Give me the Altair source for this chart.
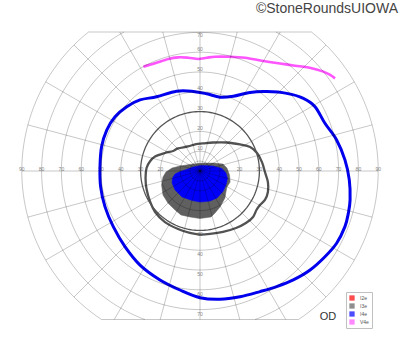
import math
import altair as alt
import pandas as pd

# ---------------- chart geometry (degrees of visual field) ----------------
W, H = 400, 352
CX_PX, CY_PX = 200, 171          # where fixation sits on the canvas
PX_PER_DEG = 1.98
TOP_LIMIT = 70.2                 # chart is cut flat at the top ...
BOTTOM_LIMIT = 75.0              # ... and at the bottom
OUTER = 90

light_rings = [5, 10, 20, 40, 50, 60, 70, 80, 90]
dark_ring = 30
meridians = list(range(0, 360, 15))
h_labels = [10, 20, 30, 40, 50, 60, 70, 80, 90]
v_labels = [10, 20, 30, 40, 50, 60, 70]

# ---------------- isopters (x, y in degrees) ----------------
# V4e (pink, open line across the top)
v4e_x = [-28.6, -22.7, -16.0, -11.0, -5.9, -0.9, 3.4, 7.6, 14.3, 22.7, 31.2, 39.5, 48.0, 56.4, 62.3, 65.7, 68.2]
v4e_y = [52.7, 54.4, 56.6, 57.4, 57.2, 56.6, 57.2, 57.7, 57.7, 57.2, 55.7, 54.4, 53.2, 51.9, 50.2, 48.5, 46.8]

# I4e (blue) outer isopter
i4e_x = [-21.9, -11.8, -3.4, 3.4, 10.1, 16.8, 25.3, 33.7, 43.8, 52.2, 58.1, 63.1, 69.0, 73.2, 75.4, 75.8,
         74.9, 73.2, 69.0, 63.1, 55.6, 47.1, 38.7, 30.3, 20.2, 10.1, 0.0, -10.1, -20.2, -30.3, -37.9,
         -43.8, -48.0, -50.2, -50.5, -49.7, -47.1, -42.9, -37.0, -30.3]
i4e_y = [37.5, 40.3, 40.2, 39.0, 37.3, 37.8, 39.7, 40.1, 39.2, 36.7, 32.5, 24.1, 15.7, 5.6, -4.5, -14.6,
         -21.4, -28.1, -36.5, -43.3, -50.0, -55.0, -58.4, -60.9, -63.5, -64.8, -64.0, -60.1, -55.0, -47.5, -38.2,
         -28.1, -18.0, -7.9, 2.2, 12.3, 20.7, 27.4, 32.5, 35.9]

# I3e (dark gray) isopter line
i3e_x = [1.5, 6.6, 13.6, 20.2, 25.3, 28.8, 31.3, 32.8, 34.3, 34.3, 32.8, 30.3, 28.5, 26.8, 23.2, 18.2,
         11.6, 5.1, 0.0, -5.1, -11.1, -17.7, -22.7, -25.3, -27.0, -27.5, -27.0, -25.3, -22.7, -17.7,
         -13.6, -11.1, -6.1, -2.0]
i3e_y = [13.9, 14.4, 14.4, 13.4, 12.1, 9.1, 4.5, -0.5, -5.6, -10.6, -14.6, -17.2, -19.7, -23.2, -26.3, -28.8,
         -30.8, -31.8, -32.1, -31.3, -29.3, -25.8, -20.7, -15.2, -9.1, -3.5, 1.5, 4.8, 7.3, 9.1,
         10.1, 11.4, 12.4, 13.6]

# central filled areas
i3e_fill_x = [-17.2, -14.1, -10.1, -5.1, 0.0, 6.6, 11.6, 13.6, 14.9, 15.2, 13.6, 13.1, 12.6, 10.1, 7.6, 5.6,
              0.0, -5.1, -9.6, -12.6, -16.2, -18.7, -19.4, -18.7]
i3e_fill_y = [-0.5, 1.5, 2.5, 3.3, 3.9, 4.0, 3.5, 1.5, -2.0, -5.6, -8.1, -10.6, -13.6, -18.2, -21.2, -23.2,
              -24.0, -23.2, -22.2, -19.7, -16.2, -12.1, -7.1, -3.0]
i4e_fill_x = [-13.9, -12.6, -10.1, -7.6, -3.5, 0.5, 6.6, 11.1, 13.1, 13.9, 13.1, 11.6, 8.6, 5.1, 0.0,
              -4.0, -9.1, -12.6, -14.1]
i4e_fill_y = [-3.5, -1.5, -0.3, 0.5, 2.0, 2.8, 2.5, 1.3, -1.0, -3.8, -7.1, -10.4, -13.6, -15.2, -15.7,
              -14.9, -13.1, -9.6, -6.1]

tests = ["I2e", "I3e", "I4e", "V4e"]
test_colors = ["#ff0000", "#606060", "#0000ff", "#ff55ff"]

# ---------------- scales ----------------
x_dom = [-CX_PX / PX_PER_DEG, (W - CX_PX) / PX_PER_DEG]
y_dom = [-(H - CY_PX) / PX_PER_DEG, CY_PX / PX_PER_DEG]
X = lambda: alt.X("x:Q", scale=alt.Scale(domain=x_dom, nice=False, zero=False), axis=None)
Y = lambda: alt.Y("y:Q", scale=alt.Scale(domain=y_dom, nice=False, zero=False), axis=None)


def path_df(xs, ys, close=False):
    xs, ys = list(xs), list(ys)
    if close:
        xs.append(xs[0]); ys.append(ys[0])
    return pd.DataFrame({"x": xs, "y": ys, "i": range(len(xs))})


def arc(r, a0, a1, seg, rows):
    n = max(8, int(abs(a1 - a0) / 2))
    for k in range(n + 1):
        a = math.radians(a0 + (a1 - a0) * k / n)
        rows.append({"x": r * math.cos(a), "y": r * math.sin(a), "seg": seg, "i": k})


def ring_rows(radii, prefix):
    rows = []
    for r in radii:
        top_cut = r > TOP_LIMIT
        bot_cut = r > BOTTOM_LIMIT
        at = math.degrees(math.asin(min(1, TOP_LIMIT / r)))
        ab = math.degrees(math.asin(min(1, BOTTOM_LIMIT / r)))
        if top_cut and bot_cut:
            arc(r, -ab, at, f"{prefix}{r}a", rows)
            arc(r, 180 - at, 180 + ab, f"{prefix}{r}b", rows)
        elif top_cut:
            arc(r, 180 - at, 360 + at, f"{prefix}{r}", rows)
        else:
            arc(r, 0, 360, f"{prefix}{r}", rows)
    return rows


grid_rows = ring_rows(light_rings, "c")
for m in meridians:
    s = math.sin(math.radians(m))
    L = OUTER
    if s > 1e-9:
        L = min(OUTER, TOP_LIMIT / s)
    elif s < -1e-9:
        L = min(OUTER, BOTTOM_LIMIT / -s)
    grid_rows.append({"x": 0, "y": 0, "seg": f"m{m}", "i": 0})
    grid_rows.append({"x": L * math.cos(math.radians(m)), "y": L * math.sin(math.radians(m)), "seg": f"m{m}", "i": 1})
for lim, nm in [(TOP_LIMIT, "top"), (-BOTTOM_LIMIT, "bot")]:
    hw = math.sqrt(OUTER ** 2 - lim ** 2)
    grid_rows.append({"x": -hw, "y": lim, "seg": nm, "i": 0})
    grid_rows.append({"x": hw, "y": lim, "seg": nm, "i": 1})
grid_df = pd.DataFrame(grid_rows)
dark_df = pd.DataFrame(ring_rows([dark_ring], "d"))

lab_rows = []
for v in h_labels:
    lab_rows.append({"x": -v, "y": 1.0, "t": str(v)})
    lab_rows.append({"x": v, "y": 1.0, "t": str(v)})
for v in v_labels:
    lab_rows.append({"x": 0, "y": min(v + 1.7, TOP_LIMIT - 1.5), "t": str(v)})
    lab_rows.append({"x": 0, "y": -(v + 2.0), "t": str(v)})
lab_df = pd.DataFrame(lab_rows)

# ---------------- layers ----------------
labels = alt.Chart(lab_df).mark_text(fontSize=5, color="#8a8a8a", font="Liberation Sans",
                                     baseline="middle", align="center").encode(x=X(), y=Y(), text="t:N")

fill3 = alt.Chart(path_df(i3e_fill_x, i3e_fill_y, True)).mark_line(
    fill="#606060", stroke="#606060", strokeWidth=0.5).encode(x=X(), y=Y(), order="i:Q")
fill4 = alt.Chart(path_df(i4e_fill_x, i4e_fill_y, True)).mark_line(
    fill="#0000f8", stroke="#0000f8", strokeWidth=0.5).encode(x=X(), y=Y(), order="i:Q")

line3 = alt.Chart(path_df(i3e_x, i3e_y)).mark_line(
    color="#525252", strokeWidth=2.3, interpolate="cardinal-closed").encode(x=X(), y=Y(), order="i:Q")
line4 = alt.Chart(path_df(i4e_x, i4e_y)).mark_line(
    color="#0000ee", strokeWidth=3, interpolate="cardinal-closed").encode(x=X(), y=Y(), order="i:Q")
lineV = alt.Chart(path_df(v4e_x, v4e_y)).mark_line(
    color="#ff55ff", strokeWidth=2.6, interpolate="cardinal").encode(x=X(), y=Y(), order="i:Q")

grid = alt.Chart(grid_df).mark_line(color="black", strokeOpacity=0.22, strokeWidth=1).encode(
    x=X(), y=Y(), detail="seg:N", order="i:Q")
dark = alt.Chart(dark_df).mark_line(color="#555555", strokeWidth=1.3).encode(
    x=X(), y=Y(), detail="seg:N", order="i:Q")

legend_df = pd.DataFrame({"test": tests, "x": [0] * 4, "y": [0] * 4})
legend_layer = alt.Chart(legend_df).mark_square(size=0.01).encode(
    x=X(), y=Y(),
    color=alt.Color("test:N", scale=alt.Scale(domain=tests, range=test_colors),
                    legend=alt.Legend(orient="none", legendX=346, legendY=292, title=None,
                                      symbolType="square", symbolSize=28, symbolStrokeWidth=0,
                                      labelFontSize=5, labelColor="#555", labelFont="Liberation Sans",
                                      padding=3, rowPadding=2, labelOffset=5,
                                      strokeColor="#c0c0c0", fillColor="white", cornerRadius=0)))

od = alt.Chart(pd.DataFrame({"t": ["OD"]})).mark_text(
    fontSize=11, color="#333", font="Liberation Sans", align="center", baseline="middle").encode(
    x=alt.value(328), y=alt.value(317), text="t:N")
credit = alt.Chart(pd.DataFrame({"t": ["©StoneRoundsUIOWA"]})).mark_text(
    fontSize=14, color="#444", font="Liberation Sans", align="right", baseline="middle").encode(
    x=alt.value(398), y=alt.value(9), text="t:N")

chart = alt.layer(labels, fill3, fill4, line3, line4, lineV, grid, dark, legend_layer, od, credit).properties(
    width=W, height=H, padding=0, autosize=alt.AutoSizeParams(type="none")
).configure_view(strokeWidth=0)

chart.save("out.html", embed_options={"renderer": "svg", "actions": False})
